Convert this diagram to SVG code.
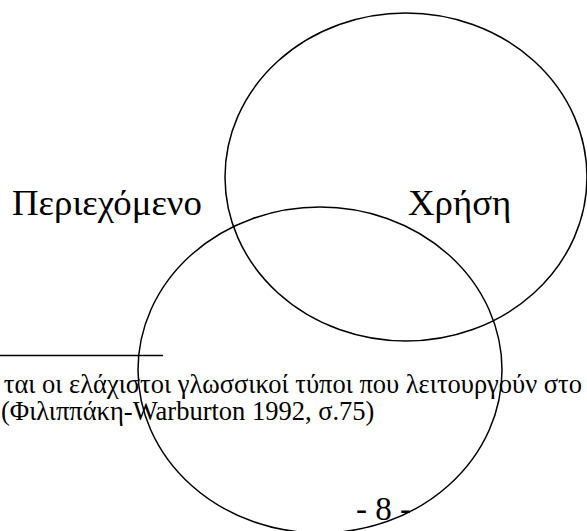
<svg xmlns="http://www.w3.org/2000/svg" width="587" height="531" viewBox="0 0 587 531">
<style>
.e{fill:none;stroke:#000;stroke-width:1.5}
.lbl{font-family:"Liberation Serif","Times New Roman",serif;font-size:36.8px;fill:#000}
.fn{font-family:"Liberation Serif","Times New Roman",serif;font-size:26.5px;fill:#000}
.pg{font-family:"Liberation Serif","Times New Roman",serif;font-size:33px;fill:#000}
</style>
<rect width="587" height="531" fill="#fff"/>
<g id="usage">
<ellipse class="e" cx="406" cy="177" rx="181" ry="164"/>
<text class="lbl" x="408" y="215">Χρήση</text>
</g>
<g id="content">
<ellipse class="e" cx="320" cy="370" rx="182" ry="163"/>
<text class="lbl" x="12" y="215">Περιεχόμενο</text>
</g>
<g id="connectors"></g>
<g id="footnote">
<line x1="0" y1="355.5" x2="163" y2="355.5" stroke="#000" stroke-width="1.3"/>
<text class="fn" x="582" y="393" text-anchor="end">ται οι ελάχιστοι γλωσσικοί τύποι που λειτουργούν στο</text>
<text class="fn" x="1" y="420">(Φιλιππάκη-Warburton 1992, σ.75)</text>
<text class="pg" x="356" y="520">- 8 -</text>
</g>
</svg>
